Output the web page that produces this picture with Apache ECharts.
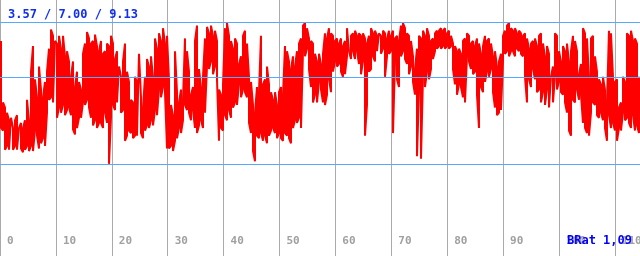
<!DOCTYPE html>
<html><head><meta charset="utf-8">
<script src="https://cdn.jsdelivr.net/npm/echarts@6/dist/echarts.min.js"></script>
<style>html,body{margin:0;padding:0;background:#fff;overflow:hidden}#c{width:640px;height:256px}</style>
</head><body><div id="c"></div>
<script>
// per-sample upper and lower values (sampled every dt units along x)
const hi = [
8.4,6.0,5.8,5.6,5.3, 5.4,5.0,5.3,5.5,5.0, 5.2,5.0,5.3,6.1,5.3, 7.2,8.2,6.9,6.2,7.4,
6.5,6.2,6.8,7.2,8.1, 8.85,8.6,8.4,8.3,8.6, 8.1,8.6,7.8,8.0,7.6, 7.0,7.6,6.6,7.2,6.8,
6.5,7.9,8.3,8.75,8.5, 8.3,8.4,8.65,8.2,8.0, 8.4,7.9,8.0,8.3,
8.2,8.6,8.3,7.7,8.0, 7.4,7.0,7.6,8.3,7.2, 6.8,6.1,6.0,7.0,6.8, 7.9,6.2,5.8,7.0,7.7,
7.4,7.8,7.0,8.5,8.1, 8.7,8.4,8.9,8.3,8.6, 6.9,5.9,5.5,8.0,6.4, 6.0,6.5,6.1,8.5,8.0,
7.2,6.3,6.6,8.4,9.0, 7.3,6.6,7.0,8.5,8.95, 8.7,9.0,8.6,8.8,8.4, 6.5,6.3,6.7,8.9,9.1,
8.6,8.4,8.1,8.5,8.3, 7.5,7.8,8.6,8.8,8.3, 7.0,6.8,5.9,5.6,6.6, 6.4,8.6,6.7,6.9,7.4,
6.7,6.4,6.1,6.4,5.9, 6.4,6.6,6.3,8.2,8.0, 7.6,7.3,7.8,7.4,8.0, 8.3,8.5,9.0,9.1,8.9,
8.5,8.4,8.3,7.9,7.6, 7.9,7.5,7.9,8.7,8.5, 8.9,8.7,8.6,8.4,8.5, 8.3,8.5,8.2,8.4,8.9,
8.9,8.6,8.7,8.8,8.6, 8.7,8.6,8.7,8.5,8.3, 8.6,8.9,8.7,8.8,8.6, 8.7,8.6,8.8,8.7,8.5,
8.8,8.6,8.8,8.5,8.6, 8.4,9.0,9.1,8.9,8.7, 8.6,8.4,7.8,7.3,8.1, 8.6,8.5,8.8,8.6,8.9,
8.6,8.4,8.5,8.7,8.8, 8.8,8.9,8.8,8.9,8.7, 8.8,8.6,8.3,8.2,8.0, 8.1,7.9,8.4,8.5,8.7,
8.6,8.3,8.4,8.2,8.5, 8.3,7.9,8.2,8.6,8.4, 8.5,8.3,7.8,8.0,7.4, 7.6,7.9,8.6,8.8,9.0,
9.1,8.9,8.8,8.9,8.7, 8.8,8.7,8.6,8.7,8.5, 8.1,8.3,8.4,8.5,8.2, 8.6,8.7,8.3,7.8,8.2,
7.9,7.0,7.4,8.7,8.6, 8.0,7.6,8.2,8.0,8.3, 7.6,8.0,8.6,8.4,8.0, 7.1,7.5,8.9,8.7,8.5,
7.0,8.5,8.6,7.8,7.2, 6.9,6.7,7.0,6.5,6.0, 8.8,8.7,7.0,6.8,6.9, 5.8,6.0,7.0,6.8,8.7,
8.6,8.8,8.4,8.5,8.3,7.0
];
const lo = [
5.0,4.9,4.15,4.3,4.15, 4.2,4.15,4.3,4.15,4.2, 4.2,4.05,4.15,4.3,4.1, 4.3,4.1,4.9,4.7,4.2,
4.4,4.6,4.3,5.6,6.1, 6.2,6.0,6.0,5.4,5.8, 5.6,5.9,5.5,5.7,5.8, 5.5,4.95,4.75,5.0,5.4,
5.4,6.0,5.9,6.1,5.8, 5.4,5.1,5.3,5.0,5.2, 5.2,5.0,5.6,5.2,
3.6,5.4,5.9,5.7,6.0, 6.0,5.6,5.7,4.5,4.7, 4.9,4.8,4.6,4.7,4.7, 4.7,4.8,4.6,4.9,5.1,
5.0,5.3,5.1,5.7,5.5, 6.5,6.2,6.6,6.4,4.2, 4.2,4.3,4.1,4.5,4.6, 5.0,4.8,5.3,5.9,5.7,
5.6,5.3,5.7,5.0,4.8, 5.1,5.3,5.0,5.6,7.4, 7.3,7.6,7.1,7.4,6.9, 4.5,5.0,4.9,5.5,5.3,
5.7,5.4,5.8,6.0,5.9, 6.7,6.2,6.5,6.4,6.2, 5.2,4.8,4.1,3.7,4.7, 4.6,4.8,4.5,4.7,4.4,
4.7,4.9,5.0,4.8,4.6, 4.8,4.6,4.5,4.8,4.7, 4.6,4.4,5.0,5.3,5.2, 5.4,5.0,8.0,7.8,8.1,
7.3,6.6,6.0,6.3,6.0, 6.8,6.5,6.0,5.9,6.3, 6.9,6.4,7.2,7.6,7.4, 7.5,7.2,7.0,7.1,7.8,
8.0,7.7,8.0,7.7,8.0, 7.5,7.1,7.6,4.7,5.9, 7.2,7.3,7.8,7.6,8.0, 8.0,7.9,8.1,7.0,7.8,
7.9,8.0,4.8,7.6,6.9, 6.6,7.8,8.0,7.7,7.5, 7.1,7.4,6.8,6.3,3.9, 6.4,3.8,7.0,6.6,7.2,
6.9,7.3,7.7,8.0,8.1, 8.2,8.1,8.2,8.1,8.2, 8.1,8.2,7.3,6.7,6.3, 6.7,6.6,6.2,6.0,7.8,
7.6,7.3,7.1,7.2,6.3, 5.0,6.6,6.4,6.8,7.2, 7.0,7.3,6.4,5.8,5.5, 5.6,5.7,7.6,7.9,8.0,
7.8,8.0,8.0,7.8,8.1, 8.0,7.9,7.8,7.0,6.0, 6.9,6.6,7.3,6.9,6.4, 6.5,6.0,6.4,5.9,6.5,
5.8,5.8,6.0,7.0,6.5, 6.8,6.4,6.3,6.0,5.6, 4.9,4.7,6.1,6.0,6.5, 6.1,6.3,5.2,5.0,4.8,
4.7,5.6,6.0,5.9,5.5, 5.4,5.6,5.3,5.0,4.5, 5.5,5.0,5.2,4.9,4.5, 5.0,4.9,5.6,5.3,5.4,
5.2,5.0,5.5,4.9,5.1,4.8
];
const t0 = 0.179, dt = 0.3578;        // sample position of first value and spacing (x units)
const refLevels = [3.57, 7.00, 9.13];  // min / mid / max reference lines
const xMin = 0, xMax = 114.5, xStep = 10;
const yMin = 0, yMax = 10;
const badge = 'BRat 1,09';

const pts = [];
hi.forEach((h, i) => {
  const x = t0 + i * dt;
  if (i % 2 === 0) { pts.push([x, h], [x, lo[i]]); }
  else { pts.push([x, lo[i]], [x, h]); }
});

const chart = echarts.init(document.getElementById('c'), null, {renderer: 'canvas'});
chart.setOption({
  animation: false,
  backgroundColor: '#ffffff',
  grid: {left: 0, right: 0, top: 0, bottom: 0, containLabel: false, outerBoundsMode: 'none'},
  xAxis: {
    type: 'value', min: xMin, max: xMax, interval: xStep,
    axisLine: {show: false}, axisTick: {show: false},
    splitLine: {show: true, showMaxLine: false, lineStyle: {color: '#aaaaaa', width: 1}},
    axisLabel: {
      inside: true, margin: 9, align: 'left', padding: [0, 0, 0, 7],
      color: '#a0a0a0', fontFamily: 'DejaVu Sans Mono', fontSize: 11, fontWeight: 'bold',
      formatter: v => (Math.abs(v % xStep) < 1e-9 ? String(v) : '')
    }
  },
  yAxis: {type: 'value', min: yMin, max: yMax, show: false, splitLine: {show: false}},
  series: [{
    type: 'line', data: pts, symbol: 'none', showSymbol: false,
    lineStyle: {color: '#ff0000', width: 2, join: 'bevel', cap: 'butt'},
    z: 2,
    markLine: {
      silent: true, symbol: ['none', 'none'], label: {show: false},
      lineStyle: {color: '#55aaff', width: 1, type: 'solid'},
      data: refLevels.map(v => ({yAxis: v}))
    }
  }],
  graphic: [
    {type: 'text', x: 8, y: 15, z: 100,
     style: {text: refLevels.map(v => v.toFixed(2)).join(' / '), fill: '#1030f0',
       font: 'bold 12px "DejaVu Sans Mono"', verticalAlign: 'middle', align: 'left'}},
    {type: 'text', x: 632, y: 241, z: 100,
     style: {text: badge, fill: '#0000ff',
       font: 'bold 12px "DejaVu Sans Mono"', verticalAlign: 'middle', align: 'right'}}
  ]
});
</script>
</body></html>
